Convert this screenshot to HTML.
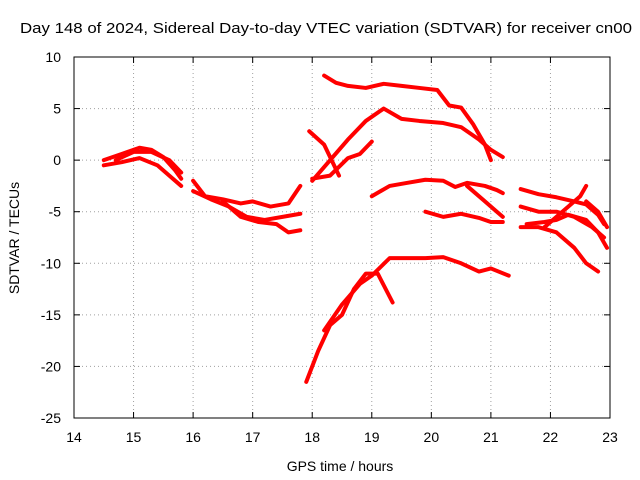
<!DOCTYPE html>
<html><head><meta charset="utf-8"><style>
body{margin:0;background:#fff;}
svg{display:block;font-family:"Liberation Sans",sans-serif;}
</style></head><body>
<svg id="chart" width="640" height="480" viewBox="0 0 640 480">
<rect width="640" height="480" fill="#fff"/>
<text x="20" y="33" font-size="15" textLength="612" lengthAdjust="spacingAndGlyphs">Day 148 of 2024, Sidereal Day-to-day VTEC variation (SDTVAR) for receiver cn00</text>
<g id="grid"></g>
<g id="series"></g>
<g id="axes"></g>
<text x="340" y="471" font-size="14" text-anchor="middle">GPS time / hours</text>
<text transform="translate(19,238) rotate(-90)" font-size="14" text-anchor="middle">SDTVAR / TECUs</text>
</svg>
<script>
const xTicks=[14,15,16,17,18,19,20,21,22,23];
const yTicks=[10,5,0,-5,-10,-15,-20,-25];
const segA=[[14.5,0],[14.8,0.6],[15.1,1.2],[15.3,1.0],[15.5,0.3],[15.7,-1.0],[15.8,-1.8]];
const segB=[[14.5,-0.5],[14.8,-0.2],[15.1,0.2],[15.4,-0.5],[15.6,-1.5],[15.8,-2.5]];
const segC=[[14.7,0],[15.0,0.8],[15.3,0.8],[15.6,0],[15.8,-1.2]];
const segD=[[16,-2],[16.2,-3.5],[16.5,-3.8],[16.8,-4.2],[17.0,-4.0],[17.3,-4.5],[17.6,-4.2],[17.8,-2.5]];
const segE=[[16,-3],[16.3,-3.8],[16.6,-4.5],[16.9,-5.5],[17.2,-5.8],[17.5,-5.5],[17.8,-5.2]];
const segF=[[16.5,-4],[16.8,-5.5],[17.1,-6],[17.4,-6.2],[17.6,-7],[17.8,-6.8]];
const segG=[[18.2,8.2],[18.4,7.5],[18.6,7.2],[18.9,7.0],[19.2,7.4],[19.5,7.2],[19.8,7.0],[20.1,6.8],[20.3,5.3],[20.5,5.1],[20.7,3.5],[20.9,1.5],[21.0,0]];
const segH=[[18,-2],[18.3,0],[18.6,2],[18.9,3.8],[19.2,5],[19.5,4],[19.8,3.8],[20.2,3.6],[20.5,3.2],[20.8,2.0],[21.0,1.0],[21.2,0.3]];
const segI1=[[17.95,2.8],[18.2,1.5],[18.45,-1.5]];
const segI2=[[18.0,-1.8],[18.3,-1.5],[18.6,0.2],[18.8,0.6],[19.0,1.8]];
const segJ=[[19.0,-3.5],[19.3,-2.5],[19.6,-2.2],[19.9,-1.9],[20.2,-2.0],[20.4,-2.6],[20.6,-2.2],[20.9,-2.5],[21.1,-2.9],[21.2,-3.2]];
const segK=[[19.9,-5],[20.2,-5.5],[20.5,-5.2],[20.8,-5.6],[21.0,-6],[21.2,-6]];
const segL=[[20.6,-2.5],[20.9,-4],[21.1,-5],[21.2,-5.5]];
const segM=[[17.9,-21.5],[18.1,-18.5],[18.3,-16],[18.5,-15],[18.7,-12.5],[18.9,-11],[19.1,-11],[19.35,-13.8]];
const segN=[[18.2,-16.5],[18.5,-14],[18.8,-12],[19.0,-11.2],[19.3,-9.5],[19.6,-9.5],[19.9,-9.5],[20.2,-9.4],[20.5,-10],[20.8,-10.8],[21.0,-10.5],[21.3,-11.2]];
const segO=[[21.5,-2.8],[21.8,-3.3],[22.1,-3.6],[22.4,-4.0],[22.6,-4.3],[22.8,-5.3],[22.9,-6.2]];
const segP=[[21.5,-4.5],[21.8,-5],[22.1,-5],[22.4,-5.5],[22.7,-6.5],[22.9,-7.5]];
const segQ=[[21.5,-6.5],[21.8,-6.5],[22.1,-7],[22.4,-8.5],[22.6,-10],[22.8,-10.8]];
const segR=[[21.6,-6.2],[21.9,-6],[22.1,-5.8],[22.3,-5.3],[22.6,-5.8],[22.8,-7],[22.95,-8.5]];
const segS=[[21.9,-6.5],[22.2,-5],[22.5,-3.5],[22.6,-2.5]];
const segT=[[22.6,-4],[22.8,-5],[22.95,-6.5]];
const segments=[segA,segB,segC,segD,segE,segF,segG,segH,segI1,segI2,segJ,segK,segL,segM,segN,segO,segP,segQ,segR,segS,segT];

const L=74,R=610,T=57,B=418;
const xs=h=>L+(h-14)/(23-14)*(R-L);
const ys=v=>T+(10-v)/(10+25)*(B-T);
const NS='http://www.w3.org/2000/svg';
function mk(tag,parent,attrs){const e=document.createElementNS(NS,tag);for(const k in attrs)e.setAttribute(k,attrs[k]);parent.appendChild(e);return e;}
const grid=document.getElementById('grid'),axes=document.getElementById('axes'),ser=document.getElementById('series');
xTicks.forEach(t=>{
  const x=xs(t);
  if(t>14&&t<23){const g=mk('line',grid,{x1:x,x2:x,y1:T,y2:B,stroke:'#a0a0a0','stroke-dasharray':'1,3'});
  
  }
  mk('line',axes,{x1:x,x2:x,y1:B,y2:B-6,stroke:'#000'});
  mk('line',axes,{x1:x,x2:x,y1:T,y2:T+6,stroke:'#000'});
  const tx=mk('text',axes,{x:x,y:B+24,'font-size':14,'text-anchor':'middle'});
  tx.textContent=t;
  
  
});
yTicks.forEach(t=>{
  const y=ys(t);
  if(t<10&&t>-25){const g=mk('line',grid,{x1:L,x2:R,y1:y,y2:y,stroke:'#a0a0a0','stroke-dasharray':'1,3'});
  
  }
  mk('line',axes,{x1:L,x2:L+6,y1:y,y2:y,stroke:'#000'});
  mk('line',axes,{x1:R,x2:R-6,y1:y,y2:y,stroke:'#000'});
  const tx=mk('text',axes,{x:L-13,y:y+5,'font-size':14,'text-anchor':'end'});
  tx.textContent=t;
  
  
});
const fr=mk('rect',axes,{x:L,y:T,width:R-L,height:B-T,fill:'none',stroke:'#000'});


segments.forEach(s=>{
  const p=mk('polyline',ser,{points:s.map(d=>xs(d[0])+','+ys(d[1])).join(' '),fill:'none',stroke:'#ff0000','stroke-width':4,'stroke-linejoin':'round','stroke-linecap':'round'});
  
  
});
</script>
</body></html>
